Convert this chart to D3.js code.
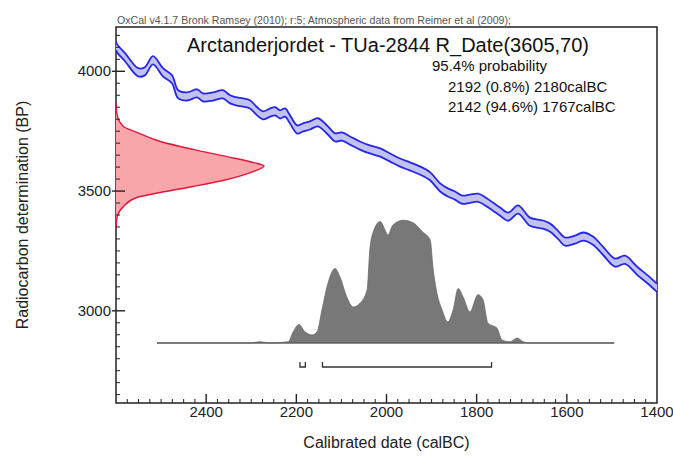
<!DOCTYPE html>
<html>
<head>
<meta charset="utf-8">
<script src="https://cdn.jsdelivr.net/npm/d3@7/dist/d3.min.js"></script>
<style>
  html, body { margin: 0; padding: 0; background: #ffffff; }
  svg { display: block; font-family: "Liberation Sans", Arial, sans-serif; }
</style>
</head>
<body>
<svg id="chart" width="673" height="462"></svg>
<script>
// ---------- data ----------
const headerText = "OxCal v4.1.7 Bronk Ramsey (2010); r:5; Atmospheric data from Reimer et al (2009);";
const titleText = "Arctanderjordet - TUa-2844 R_Date(3605,70)";
const rangeLines = ["95.4% probability", "2192 (0.8%) 2180calBC", "2142 (94.6%) 1767calBC"];

const xTicks = [2400, 2200, 2000, 1800, 1600, 1400];
const yTicks = [3000, 3500, 4000];

// calibration curve (IntCal09) : cal BC and BP mean
const curveCal = [2600, 2596, 2580, 2551, 2536, 2518, 2496, 2476, 2462, 2442, 2420, 2407, 2385, 2363, 2347, 2332,
  2318, 2303, 2287, 2274, 2258, 2247, 2236, 2225, 2214, 2198, 2185, 2170, 2152, 2130, 2114, 2099, 2081, 2059,
  2037, 2014, 1992, 1970, 1948, 1926, 1903, 1881, 1864, 1848, 1832, 1815, 1797, 1777, 1764, 1748, 1730, 1708,
  1682, 1653, 1637, 1620, 1604, 1582, 1564, 1542, 1520, 1493, 1471, 1444, 1420, 1400];
const curveBP = [4105, 4092, 4059, 3996, 4000, 4046, 3996, 3967, 3904, 3895, 3908, 3891, 3895, 3904, 3883, 3874,
  3870, 3862, 3833, 3816, 3828, 3833, 3820, 3828, 3799, 3757, 3766, 3774, 3787, 3753, 3724, 3728, 3711, 3690,
  3674, 3661, 3640, 3619, 3603, 3586, 3561, 3515, 3494, 3481, 3464, 3468, 3472, 3452, 3435, 3414, 3393, 3423,
  3372, 3360, 3347, 3318, 3289, 3297, 3310, 3293, 3251, 3201, 3213, 3167, 3130, 3096];
const curveSigma = 17;

// radiocarbon measurement distribution (BP, relative probability)
const rBP =   [3870, 3820, 3770, 3745, 3707, 3674, 3644, 3619, 3605, 3582, 3548, 3519, 3494, 3473, 3435, 3389, 3340];
const rProb = [0.0, 0.007, 0.05, 0.14, 0.30, 0.52, 0.75, 0.93, 1.0, 0.93, 0.75, 0.52, 0.30, 0.14, 0.05, 0.007, 0.0];

// calibrated distribution (cal BC, relative probability)
const gCal = [2509, 2303, 2281, 2258, 2218, 2207, 2194, 2181, 2165, 2154, 2143, 2130, 2114, 2103, 2088, 2074,
  2059, 2043, 2037, 2030, 2014, 2003, 1997, 1986, 1963, 1941, 1921, 1903, 1897, 1888, 1877, 1864, 1852, 1841,
  1830, 1815, 1797, 1786, 1775, 1755, 1744, 1726, 1710, 1697, 1682, 1495];
const gProb = [0, 0, 0.01, 0, 0.01, 0.09, 0.15, 0.09, 0.065, 0.09, 0.27, 0.48, 0.60, 0.53, 0.37, 0.29,
  0.32, 0.43, 0.75, 0.89, 0.98, 0.91, 0.87, 0.95, 0.99, 0.97, 0.90, 0.83, 0.61, 0.40, 0.27, 0.17, 0.27, 0.44,
  0.37, 0.25, 0.39, 0.35, 0.16, 0.12, 0.025, 0.01, 0.04, 0.01, 0, 0];

// HPD ranges (cal BC)
const hpdFrom = [2192, 2142];
const hpdTo =   [2180, 1767];

// ---------- layout ----------
const L = 116, R = 657, T = 27, B = 403;
const svg = d3.select("#chart");

const x = d3.scaleLinear().domain([2600, 1400]).range([L, R]);
const y = d3.scaleLinear().domain([2615, 4185]).range([B, T]);
const rx = d3.scaleLinear().domain([0, 1]).range([L, 264]);
const gy = d3.scaleLinear().domain([0, 1]).range([343, 219]);

svg.append("defs").append("clipPath").attr("id", "plotclip")
  .append("rect").attr("x", L).attr("y", T).attr("width", R - L).attr("height", B - T);

// header
svg.append("text").attr("x", L + 1).attr("y", 23.5)
  .attr("font-size", 10.6).attr("fill", "#555").text(headerText);

// frame
svg.append("rect").attr("x", L).attr("y", T).attr("width", R - L).attr("height", B - T)
  .attr("fill", "none").attr("stroke", "#222").attr("stroke-width", 1.5);

const plot = svg.append("g").attr("clip-path", "url(#plotclip)");

// calibrated distribution
const gData = gCal.map((c, i) => ({ c, p: gProb[i] }));
plot.append("path").datum(gData)
  .attr("d", d3.area().x(d => x(d.c)).y0(gy(0)).y1(d => gy(d.p)).curve(d3.curveMonotoneX))
  .attr("fill", "#787878").attr("stroke", "#6a6a6a").attr("stroke-width", 0.8);
plot.append("line").attr("x1", x(gCal[0])).attr("x2", x(gCal[gCal.length - 1]))
  .attr("y1", gy(0)).attr("y2", gy(0)).attr("stroke", "#555").attr("stroke-width", 1);

// HPD brackets
hpdFrom.forEach((f, i) => {
  const x0 = x(f), x1 = x(hpdTo[i]), yb = 367, h = 5;
  svg.append("path")
    .attr("d", `M${x0},${yb - h}V${yb}H${x1}V${yb - h}`)
    .attr("fill", "none").attr("stroke", "#333").attr("stroke-width", 1.3);
});

// measurement distribution
const rData = rBP.map((b, i) => ({ b, p: rProb[i] }));
plot.append("path").datum(rData)
  .attr("d", d3.area().y(d => y(d.b)).x0(L).x1(d => rx(d.p)).curve(d3.curveMonotoneY))
  .attr("fill", "#f9a6aa").attr("stroke", "none");
plot.append("path").datum(rData)
  .attr("d", d3.line().y(d => y(d.b)).x(d => rx(d.p)).curve(d3.curveMonotoneY))
  .attr("fill", "none").attr("stroke", "#e3163c").attr("stroke-width", 1.4);

// calibration curve band
const cData = curveCal.map((c, i) => ({ c, b: curveBP[i] }));
const cv = d3.curveCatmullRom.alpha(0.5);
plot.append("path").datum(cData)
  .attr("d", d3.area().x(d => x(d.c)).y0(d => y(d.b - curveSigma)).y1(d => y(d.b + curveSigma)).curve(cv))
  .attr("fill", "#c2c2f2");
[1, -1].forEach(s => {
  plot.append("path").datum(cData)
    .attr("d", d3.line().x(d => x(d.c)).y(d => y(d.b + s * curveSigma)).curve(cv))
    .attr("fill", "none").attr("stroke", "#2626e8").attr("stroke-width", 1.8);
});

// axes ticks
const axisG = svg.append("g").attr("stroke", "#222");
d3.range(2575, 1400, -25).forEach(v => {
  const major = xTicks.includes(v);
  axisG.append("line").attr("x1", x(v)).attr("x2", x(v))
    .attr("y1", B).attr("y2", B - (major ? 9 : 4)).attr("stroke-width", major ? 1.4 : 1);
});
d3.range(2650, 4185, 50).forEach(v => {
  const major = yTicks.includes(v);
  axisG.append("line").attr("x1", major ? L - 4 : L).attr("x2", L + (major ? 9 : 4))
    .attr("y1", y(v)).attr("y2", y(v)).attr("stroke-width", major ? 1.4 : 1);
});

// tick labels
xTicks.forEach(v => {
  svg.append("text").attr("x", x(v)).attr("y", 417).attr("text-anchor", "middle")
    .attr("font-size", 15).attr("fill", "#222").text(v);
});
yTicks.forEach(v => {
  svg.append("text").attr("x", L - 5).attr("y", y(v) + 5).attr("text-anchor", "end")
    .attr("font-size", 15).attr("fill", "#222").text(v);
});

// axis titles
svg.append("text").attr("x", (L + R) / 2).attr("y", 448).attr("text-anchor", "middle")
  .attr("font-size", 16).attr("fill", "#222").text("Calibrated date (calBC)");
svg.append("text").attr("transform", `translate(28,${(T + B) / 2}) rotate(-90)`)
  .attr("text-anchor", "middle").attr("font-size", 16).attr("fill", "#222")
  .text("Radiocarbon determination (BP)");

// title and ranges
svg.append("text").attr("x", 388).attr("y", 52).attr("text-anchor", "middle")
  .attr("font-size", 20).attr("fill", "#111").text(titleText);
svg.append("text").attr("x", 432).attr("y", 71).attr("font-size", 15).attr("fill", "#111").text(rangeLines[0]);
svg.append("text").attr("x", 448).attr("y", 91.5).attr("font-size", 15).attr("fill", "#111").text(rangeLines[1]);
svg.append("text").attr("x", 448).attr("y", 112).attr("font-size", 15).attr("fill", "#111").text(rangeLines[2]);
</script>
</body>
</html>
